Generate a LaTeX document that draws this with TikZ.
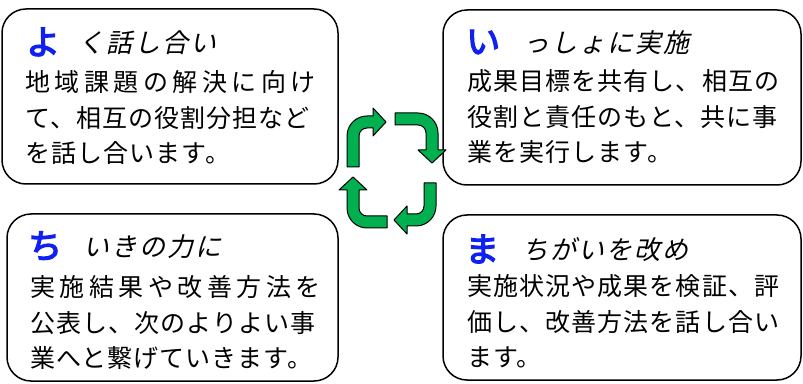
\documentclass[tikz,border=0pt]{standalone}
\usepackage{fontspec}
\setmainfont{Noto Sans CJK JP}
\newfontfamily\bodyfont[LetterSpace=4.4]{Noto Sans CJK JP}
\newfontfamily\widefont[LetterSpace=18]{Noto Sans CJK JP}
\newfontfamily\leadfont[FakeBold=4]{Noto Sans CJK JP}
\newfontfamily\slantfont[FakeSlant=0.22,LetterSpace=8]{Noto Sans CJK JP}
\usepackage{tikz}
\usetikzlibrary{positioning}
\usepackage{xcolor}
\definecolor{cyclegreen}{RGB}{0,176,80}
\definecolor{leadblue}{RGB}{16,32,240}

\tikzset{
  stagebox/.style={draw=black, line width=1.5pt, rounded corners=24pt, fill=white},
  cyclearrow/.style={fill=cyclegreen, draw=black, line width=1pt, line join=round},
  leadchar/.style={font=\leadfont\fontsize{34}{34}\selectfont, text=leadblue,
                   anchor=west, inner sep=0pt},
  leadtext/.style={font=\slantfont\fontsize{26}{26}\selectfont, anchor=west, inner sep=0pt},
  bodytext/.style={font=\bodyfont\fontsize{25}{35.5}\selectfont, anchor=north west,
                   inner sep=0pt, align=left},
}

% bent arrow: corner, rotation, shaft length, arm length
\newcommand{\bentarrow}[4]{%
  \draw[cyclearrow, shift={#1}, rotate=#2]
    (0,-#3) -- (0,-20) arc[start angle=180, end angle=90, radius=20pt]
    -- (#4,0) -- (#4,8) -- ({#4+13},-6) -- (#4,-20) -- (#4,-12)
    -- (20,-12) arc[start angle=90, end angle=180, radius=8pt]
    -- (12,-#3) -- cycle;}

\begin{document}
\begin{tikzpicture}[x=1pt, y=1pt]
    \useasboundingbox (0,0) rectangle (803,383);

    % four stages
    \draw[stagebox] (2,199) rectangle (338,374);
    \draw[stagebox] (443,198) rectangle (801,373);
    \draw[stagebox] (7,2) rectangle (338,169);
    \draw[stagebox] (443,3) rectangle (801,168);

    \node[leadchar] (yoChar) at (26,341) {よ};
    \node[leadtext] (yoHead) at (78,340) {く話し合い};
    \node[bodytext] (yoBody) at (25,312.5)
      {{\widefont 地域課題の解決に向け}\\て、相互の役割分担など\\を話し合います。};

    \node[leadchar] (iChar) at (466,341) {い};
    \node[leadtext] (iHead) at (523,340) {っしょに実施};
    \node[bodytext] (iBody) at (467,313.5)
      {成果目標を共有し、相互の\\役割と責任のもと、共に事\\業を実行します。};

    \node[leadchar] (chiChar) at (28,137) {ち};
    \node[leadtext] (chiHead) at (83,136) {いきの力に};
    \node[bodytext] (chiBody) at (30,107.5)
      {{\widefont 実施結果や改善方法を}\\公表し、次のよりよい事\\業へと繋げていきます。};

    \node[leadchar] (maChar) at (465,134) {ま};
    \node[leadtext] (maHead) at (522,133) {ちがいを改め};
    \node[bodytext] (maBody) at (467,108.5)
      {実施状況や成果を検証、評\\価し、改善方法を話し合い\\ます。};

    % cycle arrows
    \bentarrow{(347,267)}{0}{51}{26}
    \bentarrow{(438,270)}{-90}{43}{37}
    \bentarrow{(436,157)}{180}{43}{29}
    \bentarrow{(347,155)}{90}{40}{38}
  \end{tikzpicture}
\end{document}
